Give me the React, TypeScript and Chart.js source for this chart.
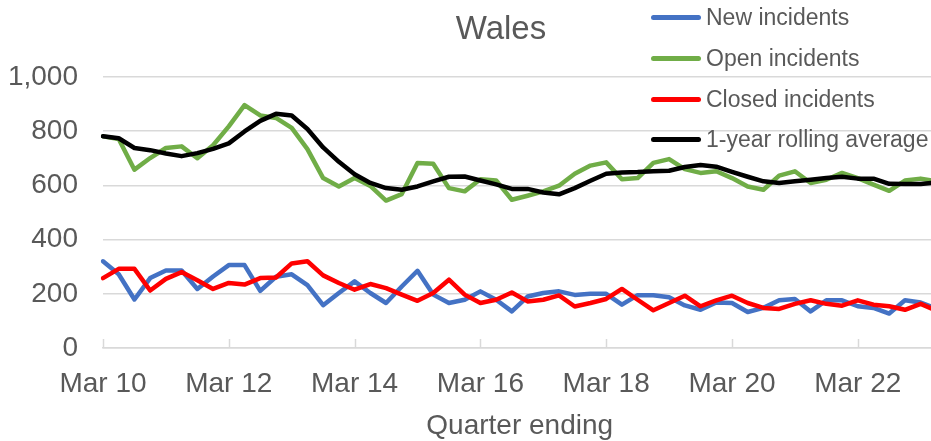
import React, { useEffect, useRef } from "react";
import { Chart, registerables } from "chart.js";

Chart.register(...registerables);

const categories = [
  "Mar 10", "Jun 10", "Sep 10", "Dec 10",
  "Mar 11", "Jun 11", "Sep 11", "Dec 11",
  "Mar 12", "Jun 12", "Sep 12", "Dec 12",
  "Mar 13", "Jun 13", "Sep 13", "Dec 13",
  "Mar 14", "Jun 14", "Sep 14", "Dec 14",
  "Mar 15", "Jun 15", "Sep 15", "Dec 15",
  "Mar 16", "Jun 16", "Sep 16", "Dec 16",
  "Mar 17", "Jun 17", "Sep 17", "Dec 17",
  "Mar 18", "Jun 18", "Sep 18", "Dec 18",
  "Mar 19", "Jun 19", "Sep 19", "Dec 19",
  "Mar 20", "Jun 20", "Sep 20", "Dec 20",
  "Mar 21", "Jun 21", "Sep 21", "Dec 21",
  "Mar 22", "Jun 22", "Sep 22", "Dec 22",
  "Mar 23", "Jun 23",
];

const newIncidents = [
  320, 272, 179, 258, 286, 286, 218, 264, 306, 306, 211, 263, 272, 232, 158, 203,
  246, 203, 166, 227, 285, 197, 166, 178, 209, 178, 135, 190, 203, 209, 196, 200,
  200, 160, 195, 195, 187, 157, 141, 168, 166, 133, 148, 176, 181, 135, 176, 176,
  154, 148, 127, 176, 168, 145,
];

const openIncidents = [
  781, 771, 658, 701, 738, 744, 700, 748, 818, 896, 858, 849, 812, 734, 627, 596,
  627, 598, 544, 568, 683, 680, 590, 578, 623, 618, 547, 562, 578, 599, 643, 673,
  685, 623, 627, 683, 697, 660, 646, 652, 627, 596, 584, 636, 652, 609, 621, 646,
  627, 603, 580, 618, 625, 615,
];

const closedIncidents = [
  258, 292, 292, 212, 255, 280, 250, 218, 240, 234, 258, 260, 312, 320, 268, 240,
  215, 236, 221, 197, 174, 203, 252, 197, 166, 178, 205, 172, 178, 194, 153, 166,
  181, 218, 178, 139, 166, 193, 154, 176, 193, 166, 148, 144, 163, 176, 163, 156,
  176, 160, 154, 141, 163, 138,
];

const rollingAverage = [
  781, 774, 738, 730, 718, 708, 719, 735, 755, 799, 838, 864, 858, 808, 740, 687,
  641, 609, 590, 584, 596, 615, 632, 633, 618, 604, 587, 587, 574, 567, 590, 617,
  643, 648, 649, 652, 654, 668, 675, 669, 650, 632, 615, 609, 615, 621, 627, 632,
  625, 625, 606, 605, 605, 611,
];

const yTicks = [0, 200, 400, 600, 800, 1000];

const seriesNames = ["New incidents", "Open incidents", "Closed incidents", "1-year rolling average"];
const seriesColors = ["#4472C4", "#70AD47", "#FF0000", "#000000"];

const FONT = '"Liberation Sans", Arial, Helvetica, sans-serif';
const TEXT = "#595959";
const GRID = "#d9d9d9";

const insideTicks = {
  id: "insideTicks",
  beforeDatasetsDraw(chart: any) {
    const x = chart.scales.x;
    const { ctx, chartArea } = chart;
    ctx.save();
    ctx.strokeStyle = GRID;
    ctx.lineWidth = 1.5;
    for (let i = 0; i < categories.length; i += 8) {
      const px = Math.round(x.getPixelForValue(i)) + 0.5;
      ctx.beginPath();
      ctx.moveTo(px, chartArea.bottom - 9);
      ctx.lineTo(px, chartArea.bottom);
      ctx.stroke();
    }
    ctx.restore();
  },
};

export default function App() {
  const ref = useRef<HTMLCanvasElement | null>(null);

  useEffect(() => {
    if (!ref.current) return;
    Chart.defaults.font.family = FONT;
    const data = [newIncidents, openIncidents, closedIncidents, rollingAverage];
    const chart = new Chart(ref.current, {
      type: "line",
      data: {
        labels: categories,
        datasets: data.map((d, i) => ({
          label: seriesNames[i],
          data: d,
          borderColor: seriesColors[i],
          backgroundColor: seriesColors[i],
          borderWidth: 4.5,
          pointRadius: 0,
          tension: 0,
          borderJoinStyle: "round" as const,
          borderCapStyle: "round" as const,
          order: 3 - i,
        })),
      },
      options: {
        animation: false,
        responsive: false,
        devicePixelRatio: 1,
        layout: { padding: { top: 77, right: 8.6, bottom: 0, left: 0 } },
        plugins: {
          legend: { display: false },
          title: { display: false },
          tooltip: { enabled: false },
        },
        scales: {
          x: {
            type: "category",
            grid: { display: false, drawTicks: false },
            border: { display: true, color: GRID, width: 1.5 },
            ticks: {
              autoSkip: false,
              maxRotation: 0,
              minRotation: 0,
              padding: 19,
              color: TEXT,
              font: { size: 28, family: FONT },
              callback: (_v: any, idx: number) => (idx % 8 === 0 ? categories[idx] : ""),
            },
            title: {
              display: true,
              text: "Quarter ending",
              color: TEXT,
              font: { size: 28, family: FONT },
              padding: { top: 0, bottom: -2 },
            },
            afterFit: (s: any) => {
              s.height = 93;
              s.paddingLeft = 0;
              s.paddingRight = 0;
            },
          },
          y: {
            min: 0,
            max: 1000,
            afterBuildTicks: (s: any) => {
              s.ticks = yTicks.map((v) => ({ value: v }));
            },
            grid: { color: GRID, lineWidth: 1.5, drawTicks: false },
            border: { display: false },
            ticks: {
              padding: 25,
              color: TEXT,
              font: { size: 28, family: FONT },
              callback: (v: any) => Number(v).toLocaleString("en-US"),
            },
            afterFit: (s: any) => {
              s.width = 103;
            },
          },
        },
      },
      plugins: [insideTicks],
    });
    return () => chart.destroy();
  }, []);

  const legendRows = [17.5, 58.2, 99, 139.7];

  return (
    <div
      style={{
        position: "absolute",
        left: 0,
        top: 0,
        width: 931,
        height: 441,
        overflow: "hidden",
        background: "#ffffff",
        fontFamily: FONT,
      }}
    >
      <canvas
        ref={ref}
        width={945}
        height={441}
        style={{ display: "block", width: 945, height: 441 }}
      />
      <div
        style={{
          position: "absolute",
          left: 401,
          width: 200,
          top: 11,
          textAlign: "center",
          fontSize: 33,
          lineHeight: 1,
          color: TEXT,
        }}
      >
        Wales
      </div>
      {seriesNames.map((name, i) => (
        <React.Fragment key={name}>
          <div
            style={{
              position: "absolute",
              left: 651,
              width: 50,
              top: legendRows[i] - 2.5,
              height: 5,
              borderRadius: 2.5,
              background: seriesColors[i],
            }}
          />
          <div
            style={{
              position: "absolute",
              left: 706,
              top: legendRows[i] - 11.5,
              fontSize: 23,
              lineHeight: 1,
              whiteSpace: "nowrap",
              color: TEXT,
            }}
          >
            {name}
          </div>
        </React.Fragment>
      ))}
    </div>
  );
}
